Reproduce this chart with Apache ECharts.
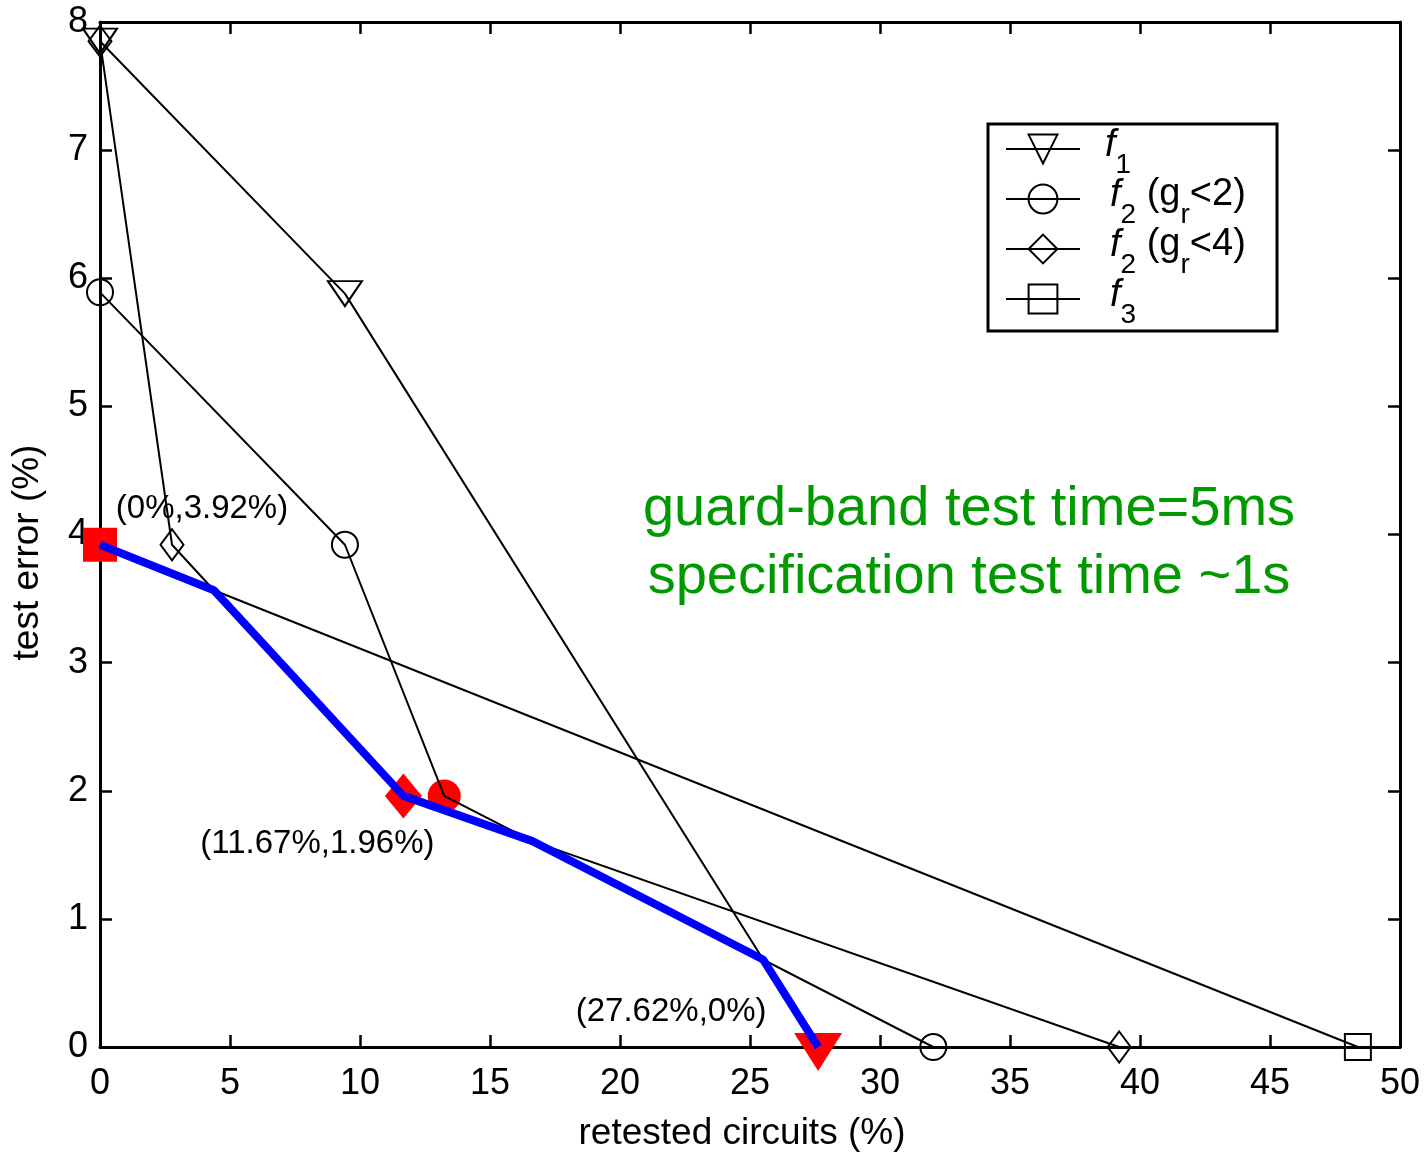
<!DOCTYPE html>
<html>
<head>
<meta charset="utf-8">
<title>Retested circuits vs. test error</title>
<script src="https://cdn.jsdelivr.net/npm/echarts@6/dist/echarts.min.js"></script>
<style>
  html, body { margin: 0; padding: 0; background: #fff; }
  #chart { width: 1424px; height: 1152px; }
</style>
</head>
<body>
<div id="chart"></div>
<script>
// Trade-off curves: retested circuits (%) vs. test error (%)
const f1X = [0, 9.42, 27.62];
const f1Y = [7.85, 5.88, 0];

const f2r2X = [0, 9.42, 13.24, 32.05];   // f2 with g_r < 2
const f2r2Y = [5.89, 3.92, 1.96, 0];

const f2r4X = [0, 2.77, 11.67, 39.2];    // f2 with g_r < 4
const f2r4Y = [7.85, 3.92, 1.96, 0];

const f3X = [0, 48.38];
const f3Y = [3.92, 0];

// lower envelope of all curves
const frontX = [0, 4.38, 11.67, 16.63, 25.5, 27.62];
const frontY = [3.92, 3.565, 1.96, 1.607, 0.683, 0];

// highlighted operating points (square, diamond, circle, triangle)
const bestX = [0, 11.67, 13.24, 27.62];
const bestY = [3.92, 1.96, 1.96, 0];
const bestLabelled = [true, true, false, true];

const xTicks = { min: 0, max: 50, step: 5 };
const yTicks = { min: 0, max: 8, step: 1 };

const seriesNames = ['f1', 'f2 (gr<2)', 'f2 (gr<4)', 'f3'];
const noteLines = ['guard-band test time=5ms', 'specification test time ~1s'];

const FONT = 'Liberation Sans, Arial, Helvetica, sans-serif';
const downTri = 'path://M0,0L20,0L10,15Z';

function isBest(x, y) {
  return bestX.some((bx, i) => bx === x && bestY[i] === y);
}

// points that are highlighted in red carry no hollow marker of their own
function curveData(xs, ys) {
  return xs.map((x, i) => isBest(x, ys[i]) ? { value: [x, ys[i]], symbol: 'none' } : [x, ys[i]]);
}

const legendRich = {
  'f1': '{f|f}{s|1}',
  'f2 (gr<2)': '{g|f}{s|2}{t| (g}{s|r}{t|<2)}',
  'f2 (gr<4)': '{g|f}{s|2}{t| (g}{s|r}{t|<4)}',
  'f3': '{g|f}{s|3}'
};

function curve(name, xs, ys, symbol, size) {
  return {
    name: name,
    type: 'line',
    z: 3,
    data: curveData(xs, ys),
    symbol: symbol,
    symbolSize: size,
    showSymbol: true,
    lineStyle: { color: '#000', width: 2 },
    itemStyle: { color: 'rgba(0,0,0,0)', borderColor: '#000', borderWidth: 2 },
    emphasis: { disabled: true },
    silent: true
  };
}

const bestSymbols = ['rect', 'diamond', 'circle', downTri];
const bestSizes = [[34, 34], [37, 45], [33, 33], [48, 38]];
const bestOffsets = [[0, 0], [0, 0], [0, 0], [0, 5]];
const labelOffsets = [[102, -36], [-86, 48], [0, 0], [-147, -40]];

const bestData = bestX.map((x, i) => ({
  value: [x, bestY[i]],
  symbol: bestSymbols[i],
  symbolSize: bestSizes[i],
  symbolOffset: bestOffsets[i],
  label: {
    show: bestLabelled[i],
    position: 'inside',
    offset: labelOffsets[i]
  }
}));

const axisCommon = {
  type: 'value',
  axisLine: { show: true, onZero: false, lineStyle: { color: '#000', width: 3 } },
  axisTick: { show: true, inside: true, length: 12, lineStyle: { color: '#000', width: 2.5 } },
  splitLine: { show: false }
};

const option = {
  animation: false,
  backgroundColor: '#fff',
  textStyle: { fontFamily: FONT },
  grid: { left: 100, right: 24, top: 22, bottom: 105, containLabel: false, outerBoundsMode: 'none' },
  xAxis: [
    Object.assign({}, axisCommon, {
      position: 'bottom',
      min: xTicks.min, max: xTicks.max, interval: xTicks.step,
      axisLabel: { fontSize: 36, color: '#000', margin: 19, fontFamily: FONT },
      name: 'retested circuits (%)',
      nameLocation: 'middle',
      nameGap: 68,
      nameTextStyle: { fontSize: 37, color: '#000', fontFamily: FONT, padding: [0, 16, 0, 0] }
    }),
    Object.assign({}, axisCommon, {
      position: 'top',
      min: xTicks.min, max: xTicks.max, interval: xTicks.step,
      axisLabel: { show: false }
    })
  ],
  yAxis: [
    Object.assign({}, axisCommon, {
      position: 'left',
      min: yTicks.min, max: yTicks.max, interval: yTicks.step,
      axisLabel: { fontSize: 36, color: '#000', margin: 12, fontFamily: FONT, padding: [4, 0, 0, 0] },
      name: 'test error (%)',
      nameLocation: 'middle',
      nameGap: 54,
      nameTextStyle: { fontSize: 37, color: '#000', fontFamily: FONT, padding: [0, 36, 0, 0] }
    }),
    Object.assign({}, axisCommon, {
      position: 'right',
      min: yTicks.min, max: yTicks.max, interval: yTicks.step,
      axisLabel: { show: false }
    })
  ],
  legend: {
    data: seriesNames,
    orient: 'vertical',
    left: 1005,
    top: 119,
    padding: 0,
    itemGap: -10,
    itemWidth: 74,
    itemHeight: 36,
    selectedMode: false,
    formatter: name => legendRich[name],
    textStyle: {
      color: '#000',
      fontFamily: FONT,
      padding: [0, 0, 0, 20],
      rich: {
        f: { fontSize: 38, fontStyle: 'italic', fontFamily: FONT, color: '#000', lineHeight: 50, padding: [0, 0, 8, 0] },
        g: { fontSize: 38, fontStyle: 'italic', fontFamily: FONT, color: '#000', lineHeight: 50, padding: [0, 0, 8, 5] },
        t: { fontSize: 38, fontFamily: FONT, color: '#000', lineHeight: 50, padding: [0, 0, 8, 0] },
        s: { fontSize: 28, fontFamily: FONT, color: '#000', lineHeight: 50, padding: [32, 0, 0, 0] }
      }
    }
  },
  graphic: [
    {
      type: 'rect',
      shape: { x: 988, y: 124, width: 289, height: 207 },
      style: { fill: 'none', stroke: '#000', lineWidth: 3 },
      silent: true,
      z: 1
    },
    {
      type: 'text',
      x: 969, y: 510,
      style: { text: noteLines[0], fill: '#009900', fontSize: 56, fontFamily: FONT, textAlign: 'center', textVerticalAlign: 'middle' },
      silent: true
    },
    {
      type: 'text',
      x: 969, y: 578,
      style: { text: noteLines[1], fill: '#009900', fontSize: 56, fontFamily: FONT, textAlign: 'center', textVerticalAlign: 'middle' },
      silent: true
    }
  ],
  series: [
    {
      name: 'best',
      type: 'scatter',
      z: 2,
      data: bestData,
      itemStyle: { color: '#ff0000', opacity: 1 },
      label: {
        color: '#000',
        fontSize: 33,
        fontFamily: FONT,
        formatter: p => '(' + p.value[0] + '%,' + p.value[1] + '%)'
      },
      emphasis: { disabled: true },
      silent: true
    },
    curve(seriesNames[0], f1X, f1Y, downTri, [34, 25]),
    curve(seriesNames[1], f2r2X, f2r2Y, 'circle', 26),
    curve(seriesNames[2], f2r4X, f2r4Y, 'diamond', [23, 31]),
    curve(seriesNames[3], f3X, f3Y, 'rect', 26),
    {
      name: 'front',
      type: 'line',
      z: 4,
      data: frontX.map((x, i) => [x, frontY[i]]),
      symbol: 'none',
      lineStyle: { color: '#0000ff', width: 8 },
      emphasis: { disabled: true },
      silent: true
    }
  ]
};

const chart = echarts.init(document.getElementById('chart'), null, { renderer: 'canvas' });
chart.setOption(option);
</script>
</body>
</html>
